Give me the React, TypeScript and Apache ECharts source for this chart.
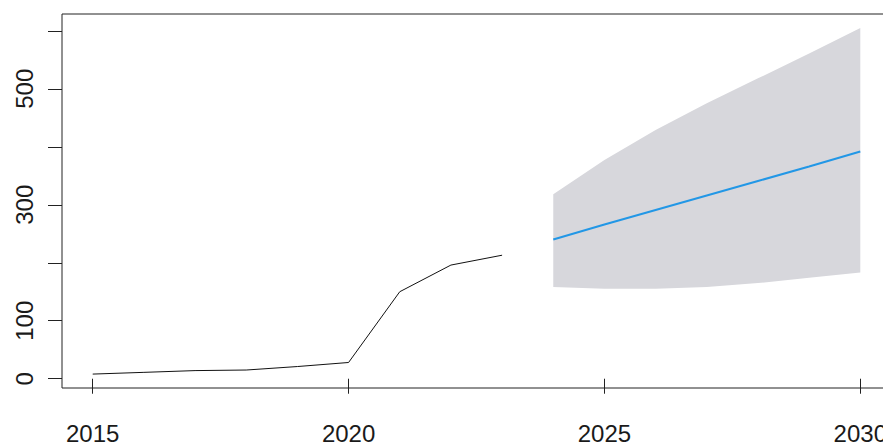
import React, { useEffect, useRef } from "react";
import * as echarts from "echarts";

// Observed series
const histYears = [2015, 2016, 2017, 2018, 2019, 2020, 2021, 2022, 2023];
const histValues = [8, 11, 14, 15, 21, 28, 150, 196, 213];

// Point forecast with its prediction interval
const fcYears = [2024, 2025, 2026, 2027, 2028, 2029, 2030];
const fcMean = [240, 266, 291, 316, 341, 366, 392];
const fcLower = [158, 155, 155, 158, 165, 174, 183];
const fcUpper = [318, 377, 429, 475, 518, 561, 605];

// Axis ticks and labels
const xTicks = [2015, 2020, 2025, 2030];
const yTicks = [0, 100, 200, 300, 400, 500, 600];
const yLabels = [0, 100, 300, 500];

export default function App() {
  const ref = useRef<HTMLDivElement>(null);

  useEffect(() => {
    if (!ref.current) return;
    const chart = echarts.init(ref.current, undefined, { renderer: "svg" });
    const font = "Liberation Sans, Arial, sans-serif";

    chart.setOption({
      animation: false,
      backgroundColor: "#ffffff",
      grid: {
        left: 62,
        top: 14,
        width: 829,
        bottom: 57,
        outerBoundsMode: "none",
        containLabel: false,
        show: true,
        borderColor: "#222",
        borderWidth: 1,
        backgroundColor: "transparent",
      },
      xAxis: {
        type: "value",
        min: 2014.4,
        max: 2030.6,
        axisLine: { show: false },
        splitLine: { show: false },
        axisTick: {
          show: true,
          customValues: xTicks,
          length: 15,
          lineStyle: { color: "#222", width: 1 },
        },
        axisLabel: {
          customValues: xTicks,
          margin: 33,
          fontSize: 24,
          fontFamily: font,
          color: "#1a1a1a",
          formatter: (v: number) => String(v),
        },
      },
      yAxis: {
        type: "value",
        min: -16,
        max: 629,
        axisLine: { show: false },
        splitLine: { show: false },
        axisTick: {
          show: true,
          customValues: yTicks,
          length: 14,
          lineStyle: { color: "#222", width: 1 },
        },
        axisLabel: {
          customValues: yLabels,
          rotate: 90,
          margin: 26,
          fontSize: 24,
          fontFamily: font,
          color: "#1a1a1a",
          formatter: (v: number) => String(v),
        },
      },
      series: [
        {
          // prediction interval drawn as one polygon: upper edge, then lower edge backwards
          type: "custom",
          silent: true,
          data: fcYears.map((y, i) => [y, fcLower[i], fcUpper[i]]),
          encode: { x: 0, y: [1, 2] },
          renderItem: (params: any, api: any) => {
            if (params.dataIndex !== 0) return null;
            const top = fcYears.map((y, i) => api.coord([y, fcUpper[i]]));
            const bottom = fcYears
              .map((y, i) => api.coord([y, fcLower[i]]))
              .reverse();
            return {
              type: "polygon",
              shape: { points: top.concat(bottom) },
              style: { fill: "#D7D7DC", stroke: "none" },
            };
          },
          z: 1,
        },
        {
          type: "line",
          data: histYears.map((y, i) => [y, histValues[i]]),
          symbol: "none",
          lineStyle: { color: "#111", width: 1 },
          z: 2,
        },
        {
          type: "line",
          data: fcYears.map((y, i) => [y, fcMean[i]]),
          symbol: "none",
          lineStyle: { color: "#2297E6", width: 2 },
          z: 3,
        },
      ],
    });

    return () => chart.dispose();
  }, []);

  return (
    <div
      ref={ref}
      style={{ position: "fixed", left: 0, top: 0, width: 883, height: 445 }}
    />
  );
}
